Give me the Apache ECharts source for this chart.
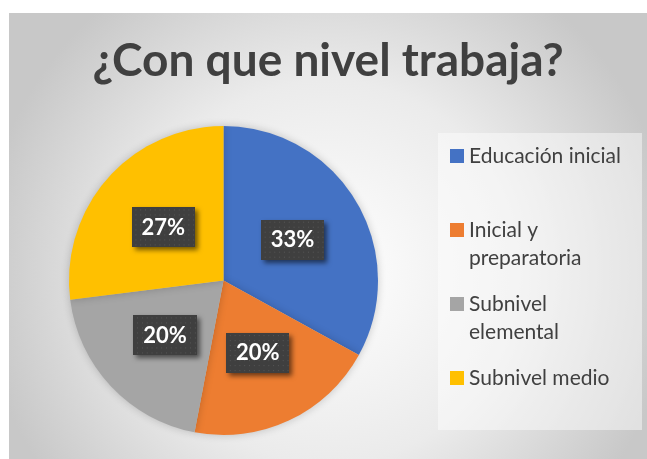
<!DOCTYPE html>
<html>
<head>
<meta charset="utf-8">
<title>¿Con que nivel trabaja?</title>
<script src="https://cdn.jsdelivr.net/npm/echarts@6/dist/echarts.min.js"></script>
<style>
  html, body { margin: 0; padding: 0; background: #ffffff; }
  #chart { position: absolute; left: 9px; top: 13px; width: 638px; height: 446px; }
</style>
</head>
<body>
<div id="chart"></div>
<script>
// datos
const titleText = '¿Con que nivel trabaja?'
const categories = ['Educación inicial', 'Inicial y preparatoria', 'Subnivel elemental', 'Subnivel medio']
const percentValues = [33, 20, 20, 27]
const sliceColors = ['#4472C4', '#ED7D31', '#A5A5A5', '#FFC000']

const FONT = 'Lato, "Open Sans", sans-serif'
const legendFontSize = 21
const legendLineHeight = 28
const legendTextWidth = 165

// fondo oscuro con puntos para las etiquetas
const makeDotCanvas = (w, h) => {
  const c = document.createElement('canvas')
  c.width = w
  c.height = h
  const ctx = c.getContext('2d')
  ctx.fillStyle = '#3f3f3f'
  ctx.fillRect(0, 0, w, h)
  ctx.fillStyle = '#575757'
  for (let y = 2; y < h; y += 5) {
    for (let x = ((y / 5) % 2 ? 4 : 1); x < w; x += 5) {
      ctx.fillRect(x, y, 1, 1)
    }
  }
  return c
}
const dotBg = makeDotCanvas(66, 40)

// partir el texto de la leyenda en líneas según el ancho
const measureCtx = document.createElement('canvas').getContext('2d')
measureCtx.font = legendFontSize + 'px ' + FONT
const wrapText = (name) => {
  const lines = []
  let cur = ''
  name.split(' ').forEach((word) => {
    const test = cur ? cur + ' ' + word : word
    if (cur && measureCtx.measureText(test).width > legendTextWidth) {
      lines.push(cur)
      cur = word
    } else {
      cur = test
    }
  })
  lines.push(cur)
  return lines
}

// todas las entradas ocupan tres líneas para que el cuadro quede junto a la primera línea
const legendFormatter = (name) => {
  const lines = wrapText(name)
  const out = [' '].concat(lines)
  while (out.length < 3) out.push(' ')
  return out.join('\n')
}

const chart = echarts.init(document.getElementById('chart'), null, { renderer: 'canvas' })

const option = {
  animation: false,
  backgroundColor: {
    type: 'radial',
    x: 0.5,
    y: 0.58,
    r: 0.78,
    colorStops: [
      { offset: 0, color: '#ffffff' },
      { offset: 0.55, color: '#ebebeb' },
      { offset: 1, color: '#c8c8c8' }
    ]
  },
  title: {
    text: titleText,
    left: 'center',
    top: 20,
    textStyle: {
      fontFamily: FONT,
      fontSize: 46,
      fontWeight: 'bold',
      color: '#404040'
    }
  },
  legend: {
    orient: 'vertical',
    left: 429,
    top: 120,
    padding: [-19, 13, 10, 12],
    itemGap: -10,
    itemWidth: 14,
    itemHeight: 14,
    icon: 'rect',
    backgroundColor: 'rgba(255, 255, 255, 0.45)',
    formatter: legendFormatter,
    textStyle: {
      fontFamily: FONT,
      fontSize: legendFontSize,
      lineHeight: legendLineHeight,
      color: '#404040',
      width: 160
    },
    data: categories
  },
  series: [
    {
      type: 'pie',
      center: [214.5, 267.5],
      radius: 154.5,
      startAngle: 90,
      clockwise: true,
      percentPrecision: 0,
      color: sliceColors,
      itemStyle: {
        borderWidth: 0,
        shadowBlur: 8,
        shadowColor: 'rgba(0, 0, 0, 0.2)'
      },
      labelLine: { show: false },
      label: {
        show: true,
        position: 'inside',
        formatter: '{d}%',
        fontFamily: FONT,
        fontSize: 22,
        fontWeight: 'bold',
        color: '#ffffff',
        backgroundColor: { image: dotBg },
        padding: [9, 10, 9, 10],
        shadowColor: 'rgba(0, 0, 0, 0.55)',
        shadowBlur: 5,
        shadowOffsetX: 3,
        shadowOffsetY: 3
      },
      emphasis: { disabled: true },
      data: categories.map((name, i) => ({ name: name, value: percentValues[i] }))
    }
  ]
}

chart.setOption(option)
</script>
</body>
</html>
